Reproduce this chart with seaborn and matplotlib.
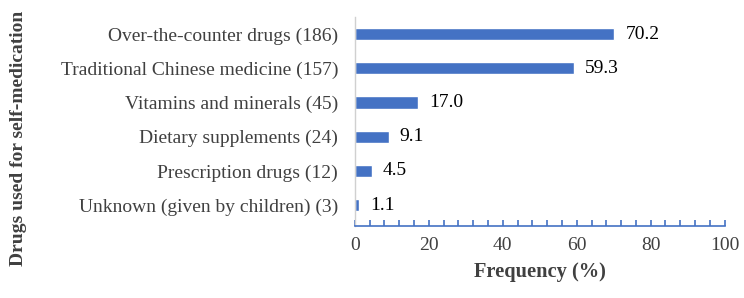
import pandas as pd
import matplotlib
matplotlib.use("Agg")
import matplotlib.pyplot as plt
import seaborn as sns
from matplotlib.ticker import MultipleLocator

categories = [
    "Over-the-counter drugs (186)",
    "Traditional Chinese medicine (157)",
    "Vitamins and minerals (45)",
    "Dietary supplements (24)",
    "Prescription drugs (12)",
    "Unknown (given by children) (3)",
]
frequency = [70.2, 59.3, 17.0, 9.1, 4.5, 1.1]

df = pd.DataFrame({"drug": categories, "freq": frequency})

sns.set_theme(style="white")
plt.rcParams["font.family"] = ["Liberation Serif", "DejaVu Serif"]
text_color = "#404040"
bar_color = "#4472C4"

fig = plt.figure(figsize=(7.44, 2.98), dpi=100)
ax = fig.add_axes([0.477, 0.243, 0.497, 0.70])

sns.barplot(data=df, x="freq", y="drug", color=bar_color, width=0.36,
            saturation=1, ax=ax, orient="h")

for i, v in enumerate(frequency):
    ax.text(v + 3.0, i, f"{v:.1f}", va="center", ha="left",
            fontsize=14, color="black")

ax.set_xlim(0, 100)
ax.set_ylim(5.6, -0.5)
ax.xaxis.set_major_locator(MultipleLocator(20))
ax.xaxis.set_minor_locator(MultipleLocator(4))
ax.tick_params(axis="x", which="major", direction="in", length=4, width=1.2,
               color=bar_color, labelsize=14, labelcolor=text_color, pad=8,
               bottom=True)
ax.tick_params(axis="x", which="minor", direction="in", length=4, width=1.2,
               color=bar_color, bottom=True)
ax.tick_params(axis="y", length=0, labelsize=14, labelcolor=text_color, pad=12)

for s in ["top", "right"]:
    ax.spines[s].set_visible(False)
ax.spines["bottom"].set_color(bar_color)
ax.spines["bottom"].set_linewidth(1.2)
ax.spines["left"].set_color("#d0d0d0")
ax.spines["left"].set_linewidth(1)

ax.set_xlabel("Frequency (%)", fontsize=14.7, fontweight="bold",
              color=text_color, labelpad=6)
ax.set_ylabel("")
fig.text(0.025, 0.537, "Drugs used for self-medication", rotation=90,
         ha="center", va="center", fontsize=14, fontweight="bold",
         color=text_color)

fig.savefig("out.png", dpi=100)
